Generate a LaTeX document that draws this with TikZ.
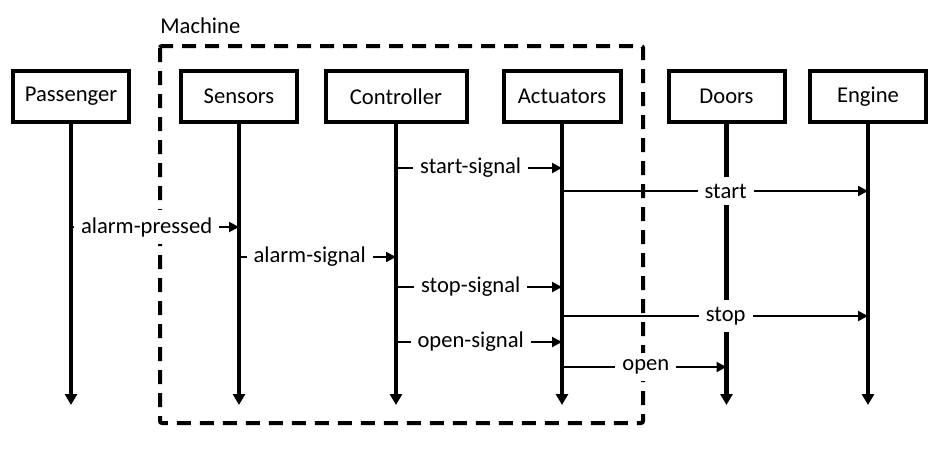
\documentclass[tikz,border=0pt]{standalone}
\usepackage{fontspec}
\setmainfont{Carlito}
\usetikzlibrary{arrows.meta}

\begin{document}
\begin{tikzpicture}[x=0.5pt, y=-0.5pt, font=\fontsize{11.3}{13}\selectfont,
  actor/.style={draw, line width=2pt, minimum width=58pt, minimum height=25.5pt, inner sep=0pt},
  life/.style={line width=2.2pt, -{Triangle[length=5.5pt,width=6pt]}},
  msg/.style={line width=1pt, -{Triangle[length=5pt,width=5pt]}},
  lbl/.style={fill=white, inner sep=3.5pt},
  frame/.style={line width=2pt, dash pattern=on 7pt off 4.5pt, rounded corners=1pt}]
\useasboundingbox (0,0) rectangle (947,451);
\node[anchor=base west, inner sep=0pt] (machine) at (160,33) {Machine};
\draw[frame] (160,46) rectangle (643,423);
\node[actor] (passenger) at (71,96.5) {Passenger};
\node[actor] (sensors) at (239,96.5) {Sensors};
\node[actor, minimum width=70.5pt] (controller) at (396,96.5) {Controller};
\node[actor, minimum width=58.5pt] (actuators) at (562,96.5) {Actuators};
\node[actor] (doors) at (726.5,96.5) {Doors};
\node[actor] (engine) at (868,96.5) {Engine};
% lifelines
\coordinate (bot) at (0,405);
\draw[life] (passenger) -- (passenger |- bot);
\draw[life] (sensors) -- (sensors |- bot);
\draw[life] (controller) -- (controller |- bot);
\draw[life] (actuators) -- (actuators |- bot);
\draw[life] (doors) -- (doors |- bot);
\draw[life] (engine) -- (engine |- bot);
% messages
\coordinate (m1) at (0,168);
\coordinate (m2) at (0,191);
\coordinate (m3) at (0,227);
\coordinate (m4) at (0,257);
\coordinate (m5) at (0,287);
\coordinate (m6) at (0,316);
\coordinate (m7) at (0,342);
\coordinate (m8) at (0,367);
\draw[msg] (controller |- m1) -- node[lbl, pos=.45] {start-signal} (actuators |- m1);
\draw[msg] (actuators |- m2) -- node[lbl, pos=.535] {start} (engine |- m2);
\draw[msg] (passenger |- m3) -- node[lbl, pos=.45] {alarm-pressed} (sensors |- m3);
\draw[msg] (sensors |- m4) -- node[lbl, pos=.45] {alarm-signal} (controller |- m4);
\draw[msg] (controller |- m5) -- node[lbl, pos=.45] {stop-signal} (actuators |- m5);
\draw[msg] (actuators |- m6) -- node[lbl, pos=.535] {stop} (engine |- m6);
\draw[msg] (controller |- m7) -- node[lbl, pos=.45] {open-signal} (actuators |- m7);
\draw[msg] (actuators |- m8) -- node[lbl, pos=.51] {open} (doors |- m8);
\end{tikzpicture}
\end{document}
